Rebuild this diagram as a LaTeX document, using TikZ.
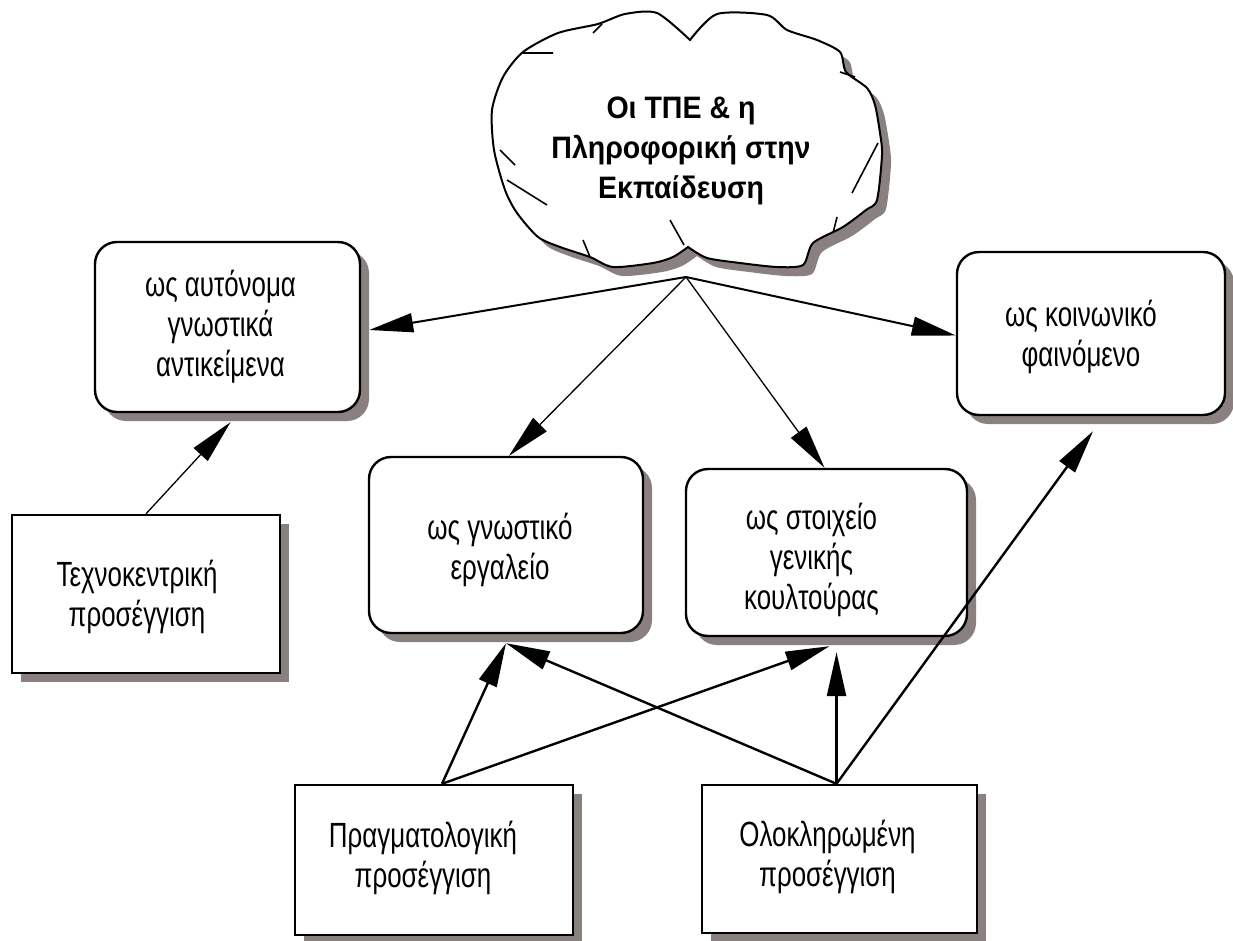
\documentclass[tikz,border=0pt]{standalone}
\usepackage{fontspec}
\setmainfont{Liberation Sans}
\newfontfamily\lblfont[FakeStretch=0.74]{Liberation Sans}
\newfontfamily\hubfont[FakeStretch=0.92]{Liberation Sans}
\usetikzlibrary{arrows.meta,shadows,calc}
\definecolor{shadowgray}{RGB}{139,128,128}

% outline of the cloud: left half and right half meet in two cusps
\newcommand\cloudoutline[1]{%
  \path[#1]
    plot[smooth,tension=0.45] coordinates {(688,247) (673,257) (653,263) (613,267) (590,257)
      (560,247) (538,237) (517,213) (505,190) (494,150) (492,110) (503,77) (523,52)
      (558,33) (598,24) (625,14) (657,13) (690,40)}
    -- plot[smooth,tension=0.45] coordinates {(690,40) (717,14) (767,15) (787,30) (817,40)
      (840,52) (846,72) (867,88) (875,105) (880,133) (882,155) (877,200) (866,210)
      (843,227) (813,243) (803,265) (777,267) (740,263) (707,258) (688,247)}
    -- cycle;}

\begin{document}
\begin{tikzpicture}[x=1pt,y=-1pt,
  lbl/.style={font=\lblfont\fontsize{35}{40}\selectfont, align=center},
  boxshadow/.style={drop shadow={shadow xshift=9pt, shadow yshift=-9pt, fill=shadowgray, opacity=1}},
  rbox/.style={draw, line width=2.4pt, rounded corners=22pt, fill=white, boxshadow, inner sep=0pt},
  sbox/.style={draw, line width=2.4pt, fill=white, boxshadow, inner sep=0pt},
  tip/.style={-{Triangle[length=44pt,width=19pt]}},
  fineline/.style={tip, line width=1.3pt},
  midline/.style={tip, line width=2pt},
  boldline/.style={tip, line width=2.4pt},
]
\fill[white] (0,0) rectangle (1233,941);
\useasboundingbox (0,0) rectangle (1233,941);

% the central cloud
\cloudoutline{fill=shadowgray, shift={(9,9)}}
\cloudoutline{fill=white, draw, line width=2pt}
\draw[line width=1.6pt] (523,53) -- (553,53)  (593,33) -- (602,24)  (500,150) -- (515,165)
  (507,180) -- (547,205)  (583,240) -- (590,257)  (670,220) -- (684,245)
  (840,72) -- (855,77)  (878,143) -- (852,193)  (837,217) -- (833,233);
\node[font=\hubfont\bfseries\fontsize{31}{40}\selectfont, align=center] (hubtext) at (681,151)
  {Οι ΤΠΕ \& η\\ Πληροφορική στην\\ Εκπαίδευση};
\coordinate (hub) at (686,277);

% the four views
\node[rbox, minimum width=265, minimum height=170,
  label={[lbl, xshift=-7pt]center:ως αυτόνομα\\ γνωστικά\\ αντικείμενα}] (b1) at (227.5,327) {};
\node[rbox, minimum width=268, minimum height=163,
  label={[lbl, xshift=-10pt, yshift=-3pt]center:ως κοινωνικό\\ φαινόμενο}] (b4) at (1091,333.5) {};
\node[rbox, minimum width=274, minimum height=176,
  label={[lbl, xshift=-6pt, yshift=-5pt]center:ως γνωστικό\\ εργαλείο}] (b2) at (506,545) {};
\node[rbox, minimum width=281, minimum height=167,
  label={[lbl, xshift=-15pt, yshift=-7pt]center:ως στοιχείο\\ γενικής\\ κουλτούρας}] (b3) at (826.5,552.5) {};

% the three approaches
\node[sbox, minimum width=268, minimum height=158,
  label={[lbl, xshift=-9pt, yshift=-3pt]center:Τεχνοκεντρική\\ προσέγγιση}] (r1) at (146,594) {};
\node[sbox, minimum width=278, minimum height=150,
  label={[lbl, xshift=-11pt, yshift=2pt]center:Πραγματολογική\\ προσέγγιση}] (r2) at (434,860) {};
\node[sbox, minimum width=275, minimum height=148,
  label={[lbl, xshift=-12pt, yshift=2pt]center:Ολοκληρωμένη\\ προσέγγιση}] (r3) at (839.5,859) {};

% connectors from the cloud
\draw[midline] (hub) -- ([xshift=8pt,yshift=-3pt]b1.east);
\draw[midline] (hub) -- ([yshift=-2pt]b4.west);
\draw[fineline] (hub) -- ([xshift=3pt]b2.north);
\draw[fineline] (hub) -- ([xshift=-2pt]b3.north);

% connectors from the approaches
\draw[fineline] (r1.north) -- ([xshift=3pt,yshift=-9pt]b1.south);
\coordinate (r2top) at ([xshift=8pt]r2.north);
\coordinate (r3top) at ([xshift=-3pt]r3.north);
\coordinate (b2low) at ([yshift=-9pt]b2.south);
\coordinate (b3low) at ([xshift=3pt,yshift=-9pt]b3.south);
\draw[boldline] (r2top) -- (b2low);
\draw[boldline] (r2top) -- (b3low);
\draw[boldline] (r3top) -- (b2low);
\draw[boldline] (r3top) -- ([yshift=-6pt]r3top |- b3low);
\draw[boldline] (r3top) -- ([xshift=2pt,yshift=-15pt]b4.south);
\end{tikzpicture}
\end{document}
